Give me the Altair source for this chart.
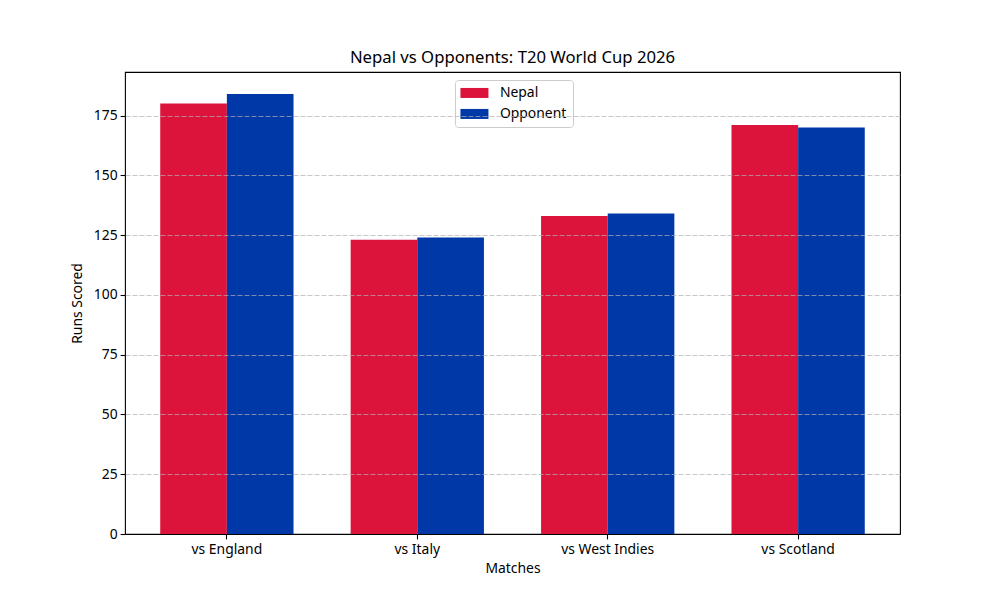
import altair as alt
import pandas as pd

matches = ["vs England", "vs Italy", "vs West Indies", "vs Scotland"]
nepal_runs = [180, 123, 133, 171]
opponent_runs = [184, 124, 134, 170]
teams = ["Nepal", "Opponent"]
colors = ["#DC143C", "#0038A8"]

rows = []
for m, n, o in zip(matches, nepal_runs, opponent_runs):
    rows.append({"match": m, "team": "Nepal", "runs": n})
    rows.append({"match": m, "team": "Opponent", "runs": o})
df = pd.DataFrame(rows)

FONT = "Noto Sans"
ymax = max(nepal_runs + opponent_runs) * 1.05

chart = alt.Chart(df).mark_bar(strokeWidth=0).encode(
    x=alt.X("match:N", sort=matches,
            scale=alt.Scale(paddingInner=0.3, paddingOuter=0.185),
            axis=alt.Axis(title="Matches", labelAngle=0, labelFontSize=13.9,
                          titleFontSize=13.9, titleFontWeight="normal",
                          tickSize=4.9, tickColor="black", tickWidth=1.1,
                          domain=True, domainColor="black", domainWidth=1.1,
                          labelPadding=4, titlePadding=5,
                          labelColor="black", titleColor="black", grid=False, zindex=2)),
    xOffset=alt.XOffset("team:N", sort=teams, scale=alt.Scale(paddingInner=0, paddingOuter=0)),
    y=alt.Y("runs:Q", scale=alt.Scale(domain=[0, ymax], nice=False, zero=True),
            axis=alt.Axis(title="Runs Scored", values=[0, 25, 50, 75, 100, 125, 150, 175],
                          labelFontSize=13.9, titleFontSize=13.9, titleFontWeight="normal",
                          tickSize=4.9, tickColor="black", tickWidth=1.1, domain=False,
                          labelPadding=3, titlePadding=9, labelColor="black", titleColor="black",
                          grid=True, gridColor="#b0b0b0", gridOpacity=0.7, gridDash=[5, 2],
                          gridWidth=1.1, zindex=1)),
    color=alt.Color("team:N", sort=teams,
                    scale=alt.Scale(domain=teams, range=colors),
                    legend=alt.Legend(title=None, orient="none", legendX=330, legendY=8,
                                      symbolType="M-1.5,-1L4.1,-1L4.1,1L-1.5,1Z",
                                      symbolSize=100, symbolStrokeWidth=0,
                                      labelOffset=25, labelFontSize=13.9, labelColor="black",
                                      rowPadding=6, padding=6, strokeColor="#cccccc",
                                      fillColor="white", cornerRadius=3)),
).properties(
    width=775, height=462,
    title=alt.TitleParams("Nepal vs Opponents: T20 World Cup 2026", fontSize=16.7,
                          fontWeight="normal", font=FONT, color="black",
                          baseline="alphabetic", offset=-8),
    autosize=alt.AutoSizeParams(type="none"),
    padding={"left": 125, "top": 72, "right": 100, "bottom": 66},
).configure(font=FONT).configure_axis(
    labelFont=FONT, titleFont=FONT
).configure_legend(labelFont=FONT).configure_view(
    stroke="black", strokeWidth=1.1
)

chart.save("out.html", embed_options={"renderer": "svg", "actions": False})
